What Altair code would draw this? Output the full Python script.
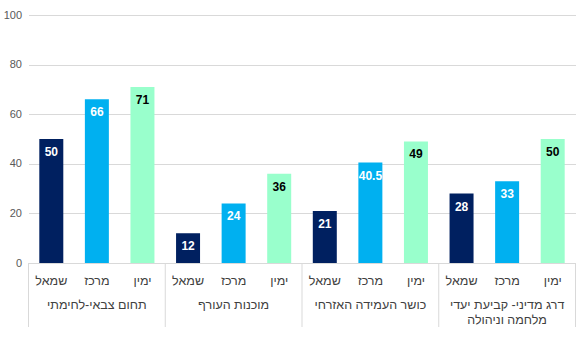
import altair as alt
import pandas as pd

groups = ["תחום צבאי-לחימתי", "מוכנות העורף", "כושר העמידה האזרחי",
          "דרג מדיני- קביעת יעדי\nמלחמה וניהולה"]
parties = ["שמאל", "מרכז", "ימין"]
left_values = [50, 12, 21, 28]
center_values = [66, 24, 40.5, 33]
right_values = [71, 36, 49, 50]
colors = ["#002060", "#00B0F0", "#99FFCC"]

rows = []
for i, g in enumerate(groups):
    for p, vals in zip(parties, [left_values, center_values, right_values]):
        rows.append({"group": g, "party": p, "value": vals[i]})
df = pd.DataFrame(rows)
gdf = pd.DataFrame({"group": groups})
last_df = pd.DataFrame({"group": groups[-1:]})

FONT = "Liberation Sans"
W, H = 547, 248
GRID = "#d9d9d9"

xenc = alt.X("group:N", sort=groups,
             scale=alt.Scale(domain=groups, paddingInner=0, paddingOuter=0),
             axis=alt.Axis(title=None, labels=False, ticks=False, grid=False,
                           domainColor=GRID))
xoff = alt.XOffset("party:N", sort=parties,
                   scale=alt.Scale(domain=parties, paddingInner=0.4735, paddingOuter=0.237))

bars = alt.Chart(df).mark_bar().encode(
    x=xenc,
    xOffset=xoff,
    y=alt.Y("value:Q", scale=alt.Scale(domain=[0, 100]),
            axis=alt.Axis(values=[0, 20, 40, 60, 80, 100], title=None, domain=False,
                          ticks=False, labelColor="#595959", labelFontSize=11,
                          labelPadding=7, gridColor=GRID, labelFont=FONT)),
    color=alt.Color("party:N", sort=parties,
                    scale=alt.Scale(domain=parties, range=colors), legend=None),
)

labels = alt.Chart(df).mark_text(baseline="middle", dy=13, fontWeight="bold",
                                 fontSize=12, font=FONT).encode(
    x=xenc, xOffset=xoff, y="value:Q",
    text=alt.Text("value:Q"),
    color=alt.condition(alt.datum.party == "ימין", alt.value("black"), alt.value("white")),
)

sub = alt.Chart(df).mark_text(baseline="middle", fontSize=12.5, font=FONT,
                              color="#404040").encode(
    x=xenc, xOffset=xoff, y=alt.value(H + 18), text="party:N",
)

glab = alt.Chart(gdf).mark_text(baseline="top", fontSize=12.5, font=FONT, color="#404040",
                                lineBreak="\n", lineHeight=14.5).encode(
    x=xenc, y=alt.value(H + 36), text="group:N",
)

div1 = alt.Chart(gdf).mark_rule(color=GRID).encode(
    x=alt.X("group:N", sort=groups, bandPosition=0),
    y=alt.value(H), y2=alt.value(H + 64),
)
div2 = alt.Chart(last_df).mark_rule(color=GRID).encode(
    x=alt.X("group:N", sort=groups, bandPosition=1),
    y=alt.value(H), y2=alt.value(H + 64),
)

chart = alt.layer(bars, labels, sub, glab, div1, div2).properties(
    width=W, height=H,
    autosize=alt.AutoSizeParams(type="none"),
    padding={"left": 28.5, "top": 15, "right": 8.5, "bottom": 87},
).configure_view(stroke=None)

chart.save("out.html", embed_options={"renderer": "svg", "actions": False})
